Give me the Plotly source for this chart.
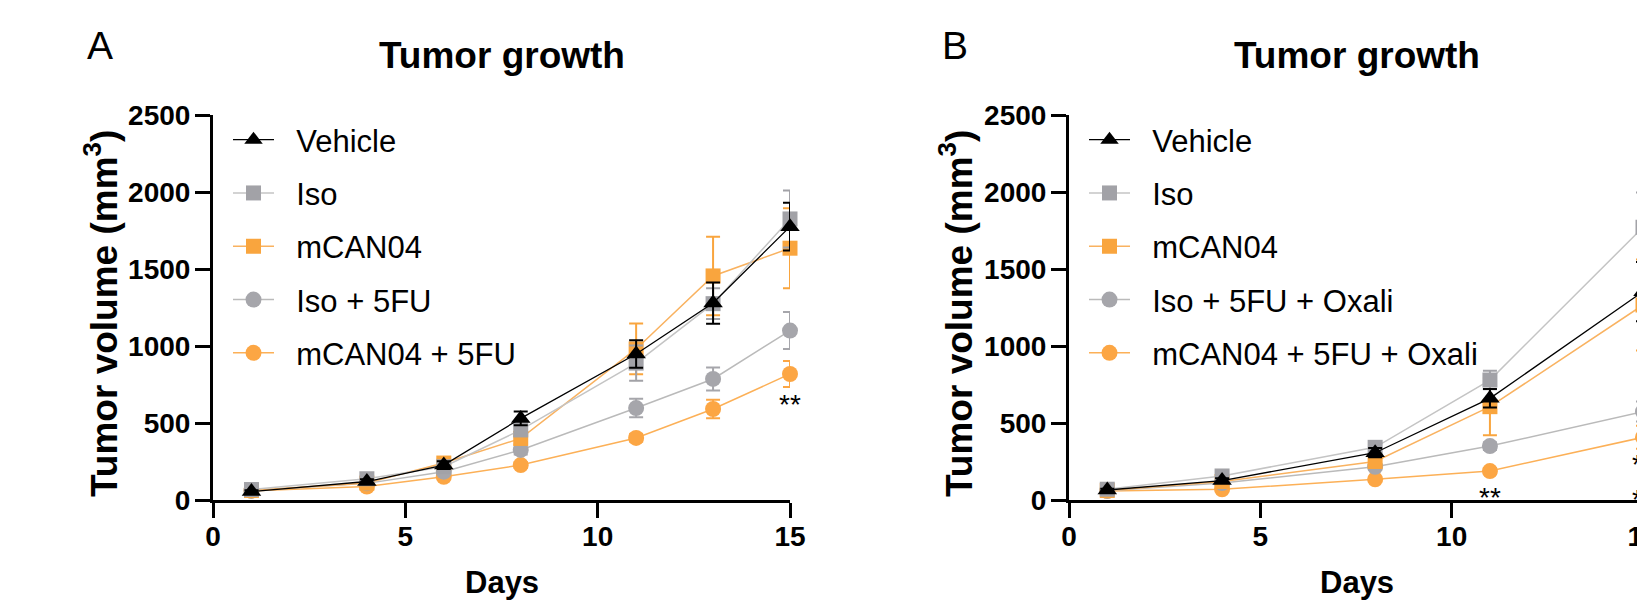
import plotly.graph_objects as go

# ---------------- data ----------------
days_a = [1, 4, 6, 8, 11, 13, 15]
vehicle_a = [55, 120, 227, 530, 948, 1279, 1775]
vehicle_a_err = [8, 15, 25, 45, 90, 134, 155]
iso_a = [68, 138, 216, 455, 889, 1275, 1825]
iso_a_err = [8, 15, 25, 40, 115, 100, 185]
mcan_a = [62, 110, 240, 400, 981, 1455, 1635]
mcan_a_err = [8, 12, 25, 40, 165, 255, 260]
iso5fu_a = [60, 108, 184, 325, 597, 786, 1100]
iso5fu_a_err = [6, 10, 15, 30, 60, 75, 120]
mcan5fu_a = [60, 87, 151, 227, 403, 591, 818]
mcan5fu_a_err = [6, 8, 12, 20, 25, 60, 85]

days_b = [1, 4, 8, 11, 15]
vehicle_b = [65, 126, 307, 660, 1353]
vehicle_b_err = [8, 15, 30, 60, 193]
iso_b = [70, 156, 342, 779, 1771]
iso_b_err = [8, 15, 30, 60, 225]
mcan_b = [62, 120, 250, 606, 1266]
mcan_b_err = [8, 12, 25, 185, 296]
isoox_b = [60, 110, 216, 350, 574]
isoox_b_err = [6, 10, 20, 25, 65]
mcanox_b = [58, 70, 134, 188, 407]
mcanox_b_err = [6, 8, 15, 20, 75]

names_a = ["Vehicle", "Iso", "mCAN04", "Iso + 5FU", "mCAN04 + 5FU"]
names_b = ["Vehicle", "Iso", "mCAN04", "Iso + 5FU + Oxali", "mCAN04 + 5FU + Oxali"]

# significance marks: (day, y-position value, text)
stars_a = [(15, 620, "**")]
stars_b = [(11, 15, "**"), (15, 230, "**"), (15, 2, "**")]

x_ticks = [0, 5, 10, 15]
y_ticks = [0, 500, 1000, 1500, 2000, 2500]

# ---------------- styles ----------------
FONT = "Liberation Sans, Arial, sans-serif"
W, H = 1645, 609
OFF = 8  # page body margin: layout pixel = screen pixel - OFF
styles = [
    dict(symbol="triangle-up", size=17, mcolor="#000000", lcolor="#000000", lw=1.3),
    dict(symbol="square", size=15, mcolor="#a2a2a7", lcolor="#c4c4c4", lw=1.5),
    dict(symbol="square", size=15, mcolor="#f9a53e", lcolor="#f9b260", lw=1.5),
    dict(symbol="circle", size=16, mcolor="#a6a6ab", lcolor="#bababa", lw=1.5),
    dict(symbol="circle", size=16, mcolor="#fca644", lcolor="#fcb057", lw=1.5),
]

def px(x):
    return (x - OFF) / W

def py(y):
    return 1 - (y - OFF) / H

fig = go.Figure()

def add_panel(days, series, errs, names, xa, ya, legend):
    # draw bottom-first so Vehicle sits on top
    for i in [4, 3, 2, 1, 0]:
        s = styles[i]
        fig.add_trace(go.Scatter(
            x=days, y=series[i], mode="lines+markers", name="\u00a0\u00a0" + names[i],
            xaxis=xa, yaxis=ya, legend=legend, legendrank=i + 1,
            legendgroup=legend + str(i),
            line=dict(color=s["lcolor"], width=s["lw"]),
            marker=dict(symbol=s["symbol"], size=s["size"], color=s["mcolor"], line=dict(width=0)),
            error_y=dict(type="data", array=errs[i], visible=True, color=s["mcolor"],
                         thickness=2, width=7),
            cliponaxis=False, hoverinfo="skip",
        ))

add_panel(days_a, [vehicle_a, iso_a, mcan_a, iso5fu_a, mcan5fu_a],
          [vehicle_a_err, iso_a_err, mcan_a_err, iso5fu_a_err, mcan5fu_a_err],
          names_a, "x", "y", "legend")
add_panel(days_b, [vehicle_b, iso_b, mcan_b, isoox_b, mcanox_b],
          [vehicle_b_err, iso_b_err, mcan_b_err, isoox_b_err, mcanox_b_err],
          names_b, "x2", "y2", "legend2")

# axes geometry (screen pixels)
ax_a = (213, 790)
ax_b = (1069, 1643)
y_top, y_bot = 115, 500
ydom = [py(y_bot), py(y_top)]

axis_common = dict(
    showline=True, linecolor="black", linewidth=3, ticks="outside", ticklen=15,
    tickwidth=3, tickcolor="black", showgrid=False, zeroline=False, automargin=False,
    ticklabeloverflow="allow",
    tickfont=dict(family=FONT, size=28, color="black", weight="bold"),
)
fig.update_layout(
    xaxis=dict(domain=[px(ax_a[0]), px(ax_a[1])], range=[0, 15], tickvals=x_ticks,
               anchor="y", ticklabelstandoff=-6, **axis_common),
    yaxis=dict(domain=ydom, range=[0, 2500], tickvals=y_ticks, anchor="x",
               ticklabelstandoff=-1, **axis_common),
    xaxis2=dict(domain=[px(ax_b[0]), px(ax_b[1])], range=[0, 15], tickvals=x_ticks,
                anchor="y2", ticklabelstandoff=-6, **axis_common),
    yaxis2=dict(domain=ydom, range=[0, 2500], tickvals=y_ticks, anchor="x2",
                ticklabelstandoff=-1, **axis_common),
)

leg_common = dict(
    xanchor="left", yanchor="top", bgcolor="rgba(0,0,0,0)", borderwidth=0,
    font=dict(family=FONT, size=31, color="black"), itemwidth=41,
    traceorder="grouped", tracegroupgap=10,
)
fig.update_layout(
    legend=dict(x=px(ax_a[0] + 15), y=py(113), **leg_common),
    legend2=dict(x=px(ax_b[0] + 15), y=py(113), **leg_common),
)

def annot(text, x, y, size, bold=False, angle=0, family=FONT):
    return dict(text=text, x=px(x), y=py(y), xref="paper", yref="paper",
                showarrow=False, xanchor="center", yanchor="middle", textangle=angle,
                font=dict(family=family, size=size, color="black",
                          weight="bold" if bold else "normal"))

cx_a = (ax_a[0] + ax_a[1]) / 2
cx_b = (ax_b[0] + 1645) / 2
annotations = [
    annot("A", 100, 45, 39),
    annot("B", 955, 45, 39),
    annot("Tumor growth", cx_a, 55, 37, bold=True),
    annot("Tumor growth", cx_b, 55, 37, bold=True),
    annot("Tumor volume (mm<sup>3</sup>)", 101, 314, 37, bold=True, angle=-90),
    annot("Tumor volume (mm<sup>3</sup>)", 956, 314, 37, bold=True, angle=-90),
    annot("Days", cx_a, 582, 31, bold=True),
    annot("Days", cx_b, 582, 31, bold=True),
]
for (d, v, t) in stars_a:
    annotations.append(dict(text=t, x=d, y=v, xref="x", yref="y", showarrow=False,
                            xanchor="center", yanchor="middle",
                            font=dict(family=FONT, size=28, color="black")))
for (d, v, t) in stars_b:
    annotations.append(dict(text=t, x=d, y=v, xref="x2", yref="y2", showarrow=False,
                            xanchor="center", yanchor="middle",
                            font=dict(family=FONT, size=28, color="black")))

fig.update_layout(
    width=W, height=H, margin=dict(l=0, r=0, t=0, b=0, autoexpand=False),
    paper_bgcolor="white", plot_bgcolor="white",
    annotations=annotations, showlegend=True,
)

fig.write_html("out.html")
